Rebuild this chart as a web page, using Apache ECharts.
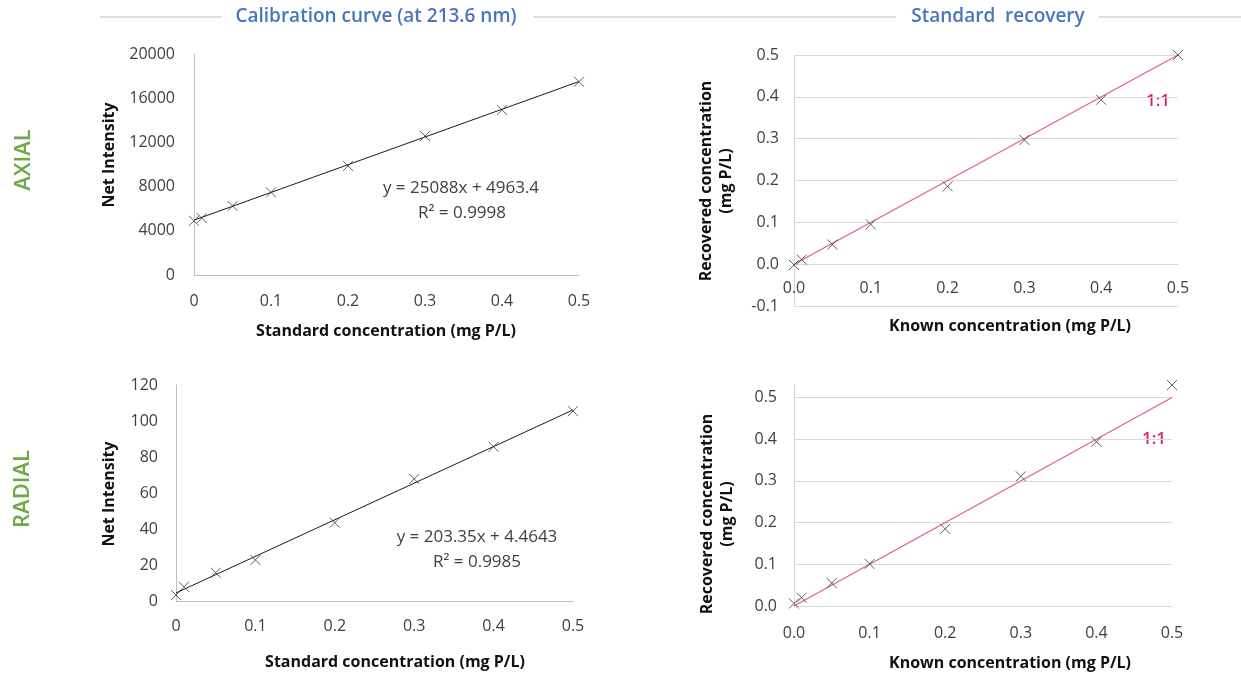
<!DOCTYPE html>
<html>
<head>
<meta charset="utf-8">
<title>ICP-OES phosphorus calibration and standard recovery</title>
<script src="https://cdn.jsdelivr.net/npm/echarts@6/dist/echarts.min.js"></script>
<style>
  html, body { margin: 0; padding: 0; background: #ffffff; }
  #chart { width: 1241px; height: 679px; }
</style>
</head>
<body>
<div id="chart"></div>
<script>
// Standard concentrations (mg P/L)
const concentrations = [0, 0.01, 0.05, 0.1, 0.2, 0.3, 0.4, 0.5];

// Net emission intensity at 213.6 nm
const axialIntensity  = [4900, 5150, 6250, 7480, 9870, 12580, 14940, 17490];
const radialIntensity = [3.3, 7.9, 15.7, 22.8, 43.5, 67.8, 85.7, 105.5];

// Recovered concentration of the standards (mg P/L)
const axialRecovered  = [-0.002, 0.011, 0.047, 0.095, 0.186, 0.297, 0.393, 0.500];
const radialRecovered = [0.006, 0.020, 0.055, 0.101, 0.185, 0.311, 0.394, 0.530];

// Linear fits: [slope, intercept, R²]
const axialFit  = [25088, 4963.4, 0.9998];
const radialFit = [203.35, 4.4643, 0.9985];

// 1:1 reference line endpoints
const identityLine = [[0, 0], [0.5, 0.5]];

// Gridlines for the radial recovery panel
const radialRecoveryGrid = [0, 0.1, 0.2, 0.3, 0.4, 0.5];

const FONT = '"Open Sans", "Noto Sans", sans-serif';
const TICK_COLOR = '#404040';
const AXIS_GRAY = '#bfbfbf';
const GRID_GRAY = '#d9d9d9';
const CROSS = 'path://M0,0L10,10M10,0L0,10';

// Axial recovery panel: y range, plot height, and the offset that lifts its x axis onto y = 0
const recMin = -0.1, recMax = 0.5, recHeight = 251;
const recZeroOffset = -((0 - recMin) / (recMax - recMin)) * recHeight;

const zip = (xs, ys) => xs.map((x, i) => [x, ys[i]]);
const fitLine = (fit) => [[0, fit[1]], [0.5, fit[0] * 0.5 + fit[1]]];

const tickLabel = (margin, fmt) => ({
  color: TICK_COLOR, fontFamily: FONT, fontSize: 16, margin: margin,
  formatter: fmt || (v => String(v))
});
const oneDecimal = v => v.toFixed(1);

const markerSeries = (idx, data) => ({
  type: 'scatter', xAxisIndex: idx, yAxisIndex: idx, data: data,
  symbol: CROSS, symbolSize: [10, 10], clip: false, z: 5,
  itemStyle: { color: 'none', borderColor: '#3a3a3a', borderWidth: 1 }
});

const text = (x, y, str, font, fill, rotate) => ({
  type: 'text', x: x, y: y, rotation: rotate ? Math.PI / 2 : 0,
  style: { text: str, fill: fill, font: font, textAlign: 'center', textVerticalAlign: 'middle' }
});
const rule = (x1, x2, y) => ({
  type: 'line', shape: { x1: x1, y1: y, x2: x2, y2: y }, style: { stroke: AXIS_GRAY, lineWidth: 1 }
});

const chart = echarts.init(document.getElementById('chart'), null, { renderer: 'canvas' });

const HEAD = '600 19px ' + FONT;
const ROW = '600 22px ' + FONT;
const TITLE = 'bold 16px ' + FONT;
const EQN = '17px ' + FONT;
const RATIO = '600 17px ' + FONT;

const option = {
  animation: false,
  backgroundColor: '#ffffff',
  grid: [
    { left: 194, top: 54, width: 385, height: 221 },
    { left: 794, top: 55, width: 384, height: recHeight },
    { left: 176, top: 385, width: 397, height: 216 },
    { left: 794, top: 385, width: 378, height: 221 }
  ],
  xAxis: [
    { gridIndex: 0, type: 'value', min: 0, max: 0.5, interval: 0.1,
      axisLine: { lineStyle: { color: AXIS_GRAY } }, axisTick: { show: false },
      splitLine: { show: false }, axisLabel: tickLabel(18) },
    { gridIndex: 1, type: 'value', min: 0, max: 0.5, interval: 0.1, offset: recZeroOffset,
      axisLine: { onZero: false, lineStyle: { color: GRID_GRAY } }, axisTick: { show: false },
      splitLine: { show: false }, axisLabel: tickLabel(16, oneDecimal) },
    { gridIndex: 2, type: 'value', min: 0, max: 0.5, interval: 0.1,
      axisLine: { lineStyle: { color: AXIS_GRAY } }, axisTick: { show: false },
      splitLine: { show: false }, axisLabel: tickLabel(17) },
    { gridIndex: 3, type: 'value', min: 0, max: 0.5, interval: 0.1,
      axisLine: { lineStyle: { color: GRID_GRAY } }, axisTick: { show: false },
      splitLine: { show: false }, axisLabel: tickLabel(19, oneDecimal) }
  ],
  yAxis: [
    { gridIndex: 0, type: 'value', min: 0, max: 20000, interval: 4000,
      axisLine: { show: true, lineStyle: { color: AXIS_GRAY } }, axisTick: { show: false },
      splitLine: { show: false }, axisLabel: tickLabel(19) },
    { gridIndex: 1, type: 'value', min: recMin, max: recMax, interval: 0.1,
      axisLine: { show: true, onZero: false, lineStyle: { color: GRID_GRAY } }, axisTick: { show: false },
      splitLine: { show: true, lineStyle: { color: GRID_GRAY, width: 1 } },
      axisLabel: tickLabel(15, oneDecimal) },
    { gridIndex: 2, type: 'value', min: 0, max: 120, interval: 20,
      axisLine: { show: true, lineStyle: { color: AXIS_GRAY } }, axisTick: { show: false },
      splitLine: { show: false }, axisLabel: tickLabel(18) },
    { gridIndex: 3, type: 'value', min: 0, max: 0.53, interval: 0.1,
      axisLine: { show: true, lineStyle: { color: GRID_GRAY } }, axisTick: { show: false },
      splitLine: { show: false },
      axisLabel: tickLabel(17, v => (v > 0.5001 ? '' : v.toFixed(1))) }
  ],
  series: [
    // Axial calibration
    { type: 'line', xAxisIndex: 0, yAxisIndex: 0, data: fitLine(axialFit),
      symbol: 'none', lineStyle: { color: '#1a1a1a', width: 1 }, z: 3 },
    markerSeries(0, zip(concentrations, axialIntensity)),

    // Axial recovery
    { type: 'line', xAxisIndex: 1, yAxisIndex: 1, data: identityLine,
      symbol: 'none', lineStyle: { color: '#e0607e', width: 1.2 }, z: 3 },
    markerSeries(1, zip(concentrations, axialRecovered)),

    // Radial calibration
    { type: 'line', xAxisIndex: 2, yAxisIndex: 2, data: fitLine(radialFit),
      symbol: 'none', lineStyle: { color: '#1a1a1a', width: 1 }, z: 3 },
    markerSeries(2, zip(concentrations, radialIntensity)),

    // Radial recovery, with its horizontal gridlines
    { type: 'line', xAxisIndex: 3, yAxisIndex: 3, data: identityLine,
      symbol: 'none', lineStyle: { color: '#e0607e', width: 1.2 }, z: 3,
      markLine: {
        silent: true, symbol: 'none', label: { show: false }, z: 1,
        lineStyle: { color: GRID_GRAY, type: 'solid', width: 1 },
        data: radialRecoveryGrid.map(v => ({ yAxis: v }))
      } },
    markerSeries(3, zip(concentrations, radialRecovered))
  ],
  graphic: [
    // Section headers with rules
    rule(100, 222, 17), rule(533, 896, 17), rule(1099, 1241, 17),
    text(376, 17, 'Calibration curve (at 213.6 nm)', HEAD, '#4a74bd'),
    text(998, 17, 'Standard  recovery', HEAD, '#4a74bd'),

    // Row labels
    text(24, 160, 'AXIAL', ROW, '#70a845', true),
    text(23, 489, 'RADIAL', ROW, '#70a845', true),

    // Axis titles
    text(386, 331, 'Standard concentration (mg P/L)', TITLE, '#111'),
    text(395, 662, 'Standard concentration (mg P/L)', TITLE, '#111'),
    text(1010, 326, 'Known concentration (mg P/L)', TITLE, '#111'),
    text(1010, 663, 'Known concentration (mg P/L)', TITLE, '#111'),
    text(109, 155, 'Net Intensity', TITLE, '#111', true),
    text(109, 494, 'Net Intensity', TITLE, '#111', true),
    text(706, 181, 'Recovered concentration', TITLE, '#111', true),
    text(726, 181, '(mg P/L)', TITLE, '#111', true),
    text(707, 514, 'Recovered concentration', TITLE, '#111', true),
    text(727, 514, '(mg P/L)', TITLE, '#111', true),

    // Fit equations
    text(461, 188, 'y = ' + axialFit[0] + 'x + ' + axialFit[1], EQN, TICK_COLOR),
    text(462, 213, 'R² = ' + axialFit[2], EQN, TICK_COLOR),
    text(477, 537, 'y = ' + radialFit[0] + 'x + ' + radialFit[1], EQN, TICK_COLOR),
    text(477, 562, 'R² = ' + radialFit[2], EQN, TICK_COLOR),

    // 1:1 line labels
    text(1158, 101, '1:1', RATIO, '#e0245e'),
    text(1154, 439, '1:1', RATIO, '#e0245e')
  ]
};

chart.setOption(option);
</script>
</body>
</html>
